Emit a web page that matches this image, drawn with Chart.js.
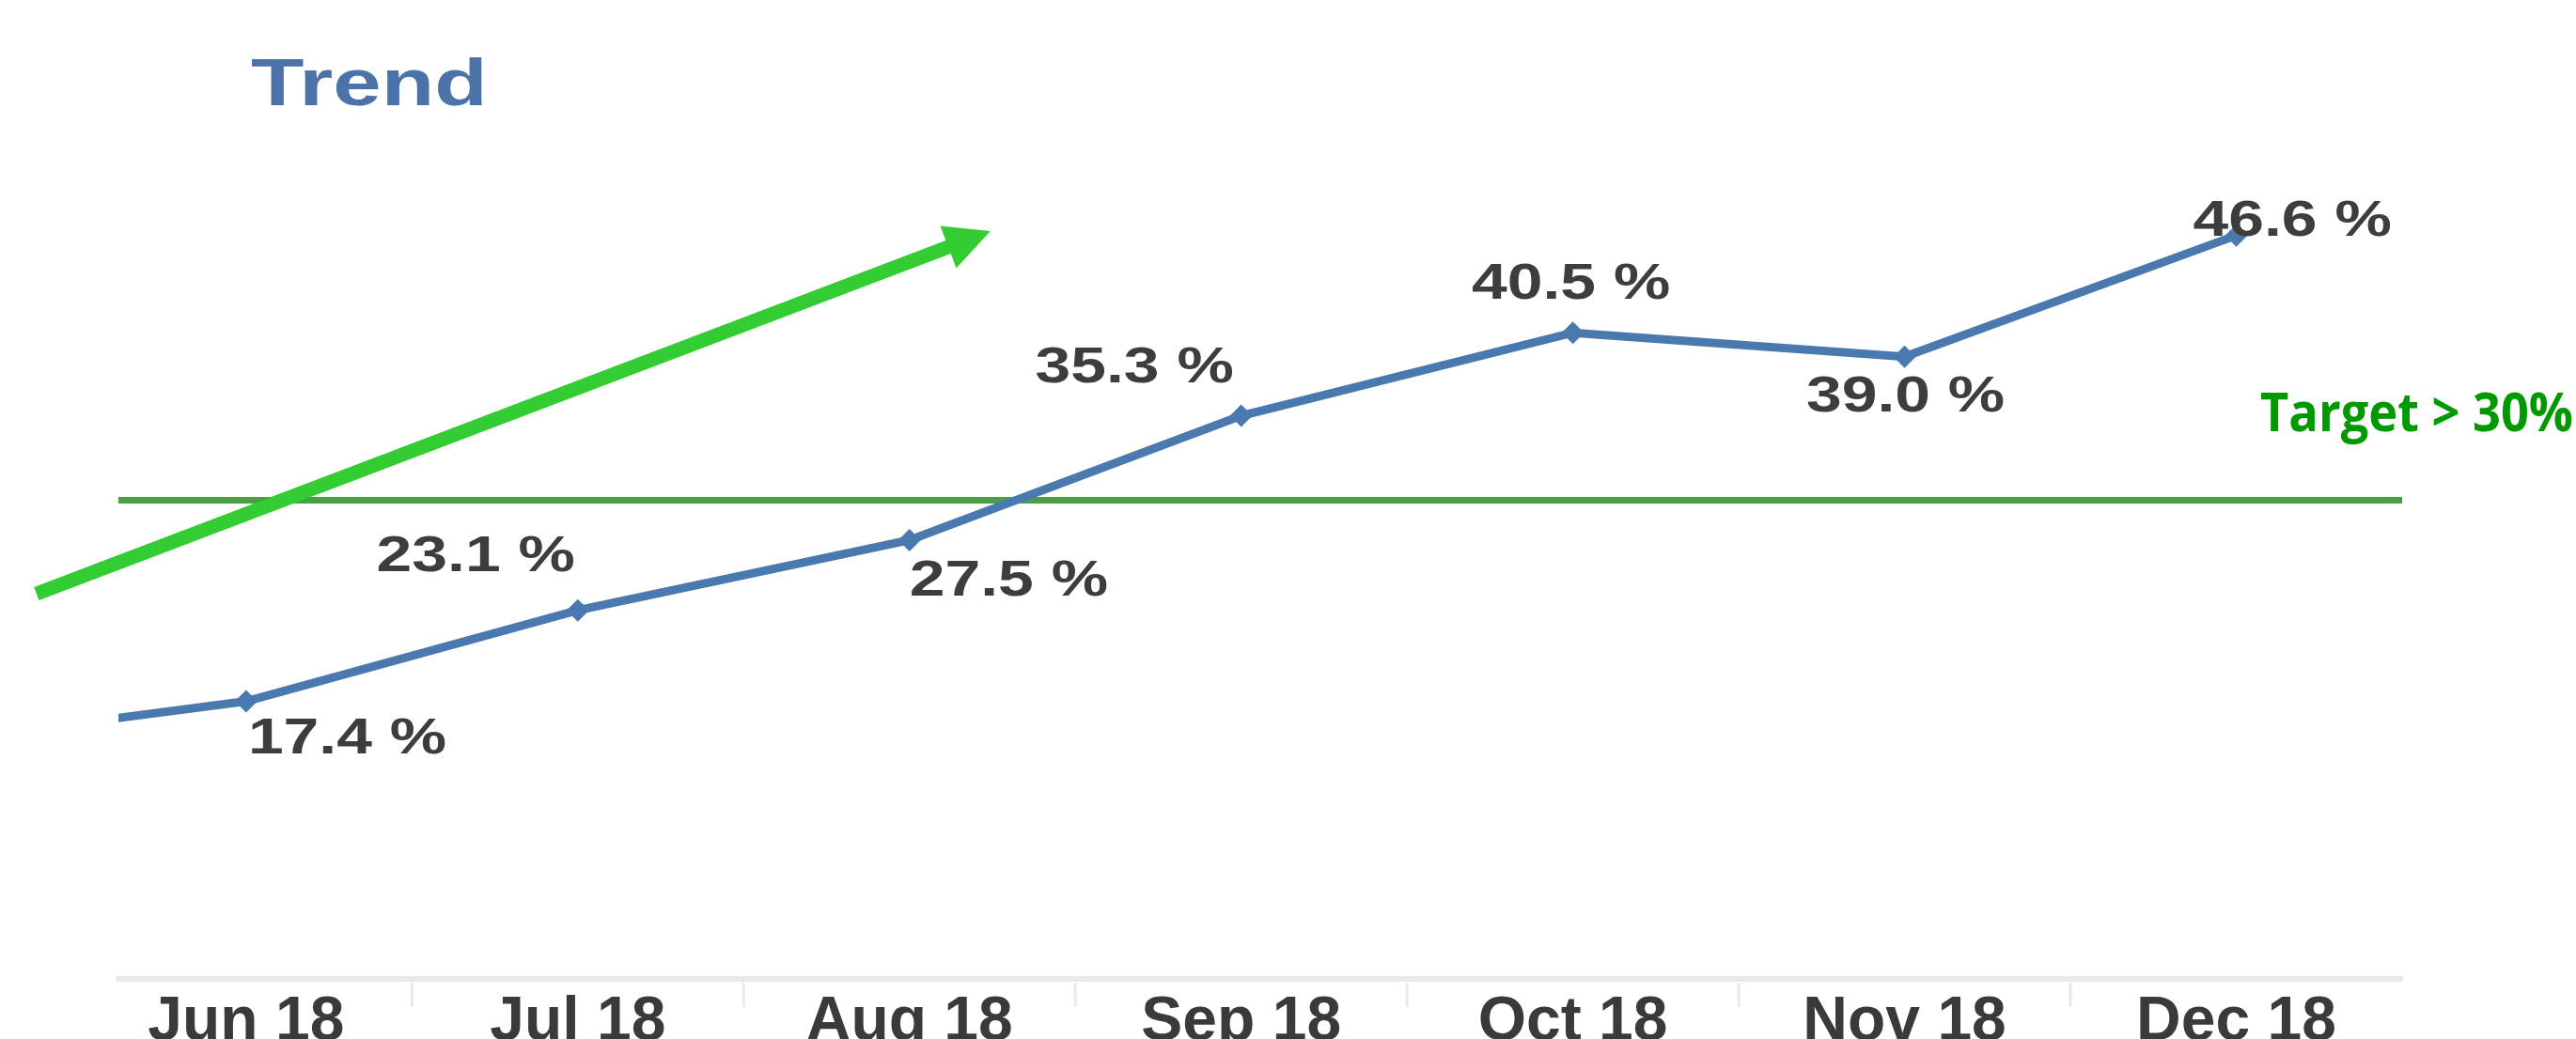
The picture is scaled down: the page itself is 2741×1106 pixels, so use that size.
<!DOCTYPE html>
<html>
<head>
<meta charset="utf-8">
<title>Trend</title>
<script src="https://cdn.jsdelivr.net/npm/chart.js@4.4.1/dist/chart.umd.min.js"></script>
<style>
  html, body { margin: 0; padding: 0; background: #fff; }
  #trend-canvas { display: block; }
</style>
</head>
<body>
<canvas id="trend-canvas" width="2741" height="1106"></canvas>
<script>
// Monthly share (%) - May 18 sits just off the left edge, only its segment shows
const months = ['May 18', 'Jun 18', 'Jul 18', 'Aug 18', 'Sep 18', 'Oct 18', 'Nov 18', 'Dec 18'];
const shares = [14.7, 17.4, 23.1, 27.5, 35.3, 40.5, 39.0, 46.6];
const targetValue = 30;
const targetText = 'Target > 30%';
const titleText = 'Trend';
// Green trend arrow, in chart units [month index, %]
const arrowFrom = [0.368, 24.15];
const arrowTo = [3.244, 46.88];

// Where each value label sits relative to its point
const labelPlacement = [
  null,
  { align: 'left', dx: 2, dy: 41 },
  { align: 'right', dx: -3, dy: -56 },
  { align: 'left', dx: 0, dy: 44 },
  { align: 'right', dx: -8, dy: -50 },
  { align: 'center', dx: -2, dy: -51 },
  { align: 'center', dx: 1, dy: 44 },
  { align: 'left', dx: -46, dy: -14 },
];

const lineBlue = '#4a79b0';
const FONT = '"Liberation Sans", Arial, sans-serif';

// the source screenshot is stretched sideways, so text is drawn wider than normal
function drawStretched(ctx, text, x, y, align, sx) {
  const w = ctx.measureText(text).width * sx;
  let left = x;
  if (align === 'right') left = x - w;
  if (align === 'center') left = x - w / 2;
  ctx.save();
  ctx.translate(left, y);
  ctx.scale(sx, 1);
  ctx.textAlign = 'left';
  ctx.fillText(text, 0, 0);
  ctx.restore();
}

const decorations = {
  id: 'decorations',
  beforeDatasetsDraw(chart) {
    const { ctx, chartArea, scales: { x, y } } = chart;
    ctx.save();
    // separators between months, below the axis line
    ctx.strokeStyle = '#e9e9e9';
    ctx.lineWidth = 3;
    for (let i = 1; i < months.length - 1; i++) {
      const px = x.getPixelForValue(i + 0.5);
      ctx.beginPath();
      ctx.moveTo(px, chartArea.bottom + 4);
      ctx.lineTo(px, chartArea.bottom + 30);
      ctx.stroke();
    }
    // target line
    const ty = y.getPixelForValue(targetValue);
    ctx.strokeStyle = '#4a9e46';
    ctx.lineWidth = 7;
    ctx.beginPath();
    ctx.moveTo(chartArea.left, ty);
    ctx.lineTo(chartArea.right, ty);
    ctx.stroke();
    ctx.restore();
  },
  afterDatasetsDraw(chart) {
    const { ctx, scales: { x, y } } = chart;
    ctx.save();

    // value labels
    ctx.font = `bold 53px ${FONT}`;
    ctx.fillStyle = '#3d3d3d';
    ctx.textBaseline = 'middle';
    shares.forEach((v, i) => {
      const place = labelPlacement[i];
      if (!place) return;
      const px = x.getPixelForValue(i) + place.dx;
      const py = y.getPixelForValue(v) + place.dy;
      drawStretched(ctx, `${v.toFixed(1)} %`, px, py, place.align, 1.28);
    });

    // title
    ctx.font = `bold 70px ${FONT}`;
    ctx.fillStyle = '#4b73a9';
    ctx.textBaseline = 'alphabetic';
    drawStretched(ctx, titleText, 267, 112, 'left', 1.32);

    // target label, squeezed to the width it has in the picture
    ctx.font = 'bold 57px "Open Sans", sans-serif';
    ctx.fillStyle = '#009a00';
    const w = ctx.measureText(targetText).width;
    const sx = Math.min(1, 333 / w);
    drawStretched(ctx, targetText, chart.width - 3, y.getPixelForValue(targetValue) - 74, 'right', sx);

    // trend arrow
    const x0 = x.getPixelForValue(arrowFrom[0]);
    const y0 = y.getPixelForValue(arrowFrom[1]);
    const x1 = x.getPixelForValue(arrowTo[0]);
    const y1 = y.getPixelForValue(arrowTo[1]);
    const ang = Math.atan2(y1 - y0, x1 - x0);
    const headLen = 48;
    const headHalf = 24;
    const bx = x1 - headLen * Math.cos(ang);
    const by = y1 - headLen * Math.sin(ang);
    ctx.strokeStyle = '#33cc33';
    ctx.fillStyle = '#33cc33';
    ctx.lineWidth = 15;
    ctx.lineCap = 'butt';
    ctx.beginPath();
    ctx.moveTo(x0, y0);
    ctx.lineTo(bx + 2 * Math.cos(ang), by + 2 * Math.sin(ang));
    ctx.stroke();
    ctx.beginPath();
    ctx.moveTo(x1, y1);
    ctx.lineTo(bx - headHalf * Math.sin(ang), by + headHalf * Math.cos(ang));
    ctx.lineTo(bx + headHalf * Math.sin(ang), by - headHalf * Math.cos(ang));
    ctx.closePath();
    ctx.fill();

    ctx.restore();
  },
};

const chartData = {
  datasets: [{
    label: 'Share',
    data: shares.map((v, i) => ({ x: i, y: v })),
    borderColor: lineBlue,
    backgroundColor: lineBlue,
    borderWidth: 9,
    pointStyle: 'rectRot',
    pointRadius: 12,
    pointBorderWidth: 0,
    tension: 0,
  }],
};

new Chart(document.getElementById('trend-canvas'), {
  type: 'line',
  data: chartData,
  options: {
    responsive: false,
    devicePixelRatio: 1,
    animation: false,
    layout: { padding: { left: 126, right: 185, top: 108, bottom: 0 } },
    plugins: {
      legend: { display: false },
      tooltip: { enabled: false },
      title: { display: false },
    },
    scales: {
      x: {
        type: 'linear',
        min: 0.615,
        max: 7.5,
        // month labels run off the bottom edge in the picture
        afterFit: (scale) => { scale.height = 64; },
        grid: { display: false, drawTicks: false },
        border: { display: true, color: '#e9e9e9', width: 6 },
        ticks: {
          stepSize: 1,
          includeBounds: false,
          autoSkip: false,
          maxRotation: 0,
          padding: 14,
          color: '#3a3a3a',
          font: { family: FONT, size: 66, weight: 'bold', lineHeight: 1 },
          callback: (value) => months[value] || '',
        },
      },
      y: {
        display: false,
        min: 0,
        max: 55,
      },
    },
  },
  plugins: [decorations],
});
</script>
</body>
</html>
